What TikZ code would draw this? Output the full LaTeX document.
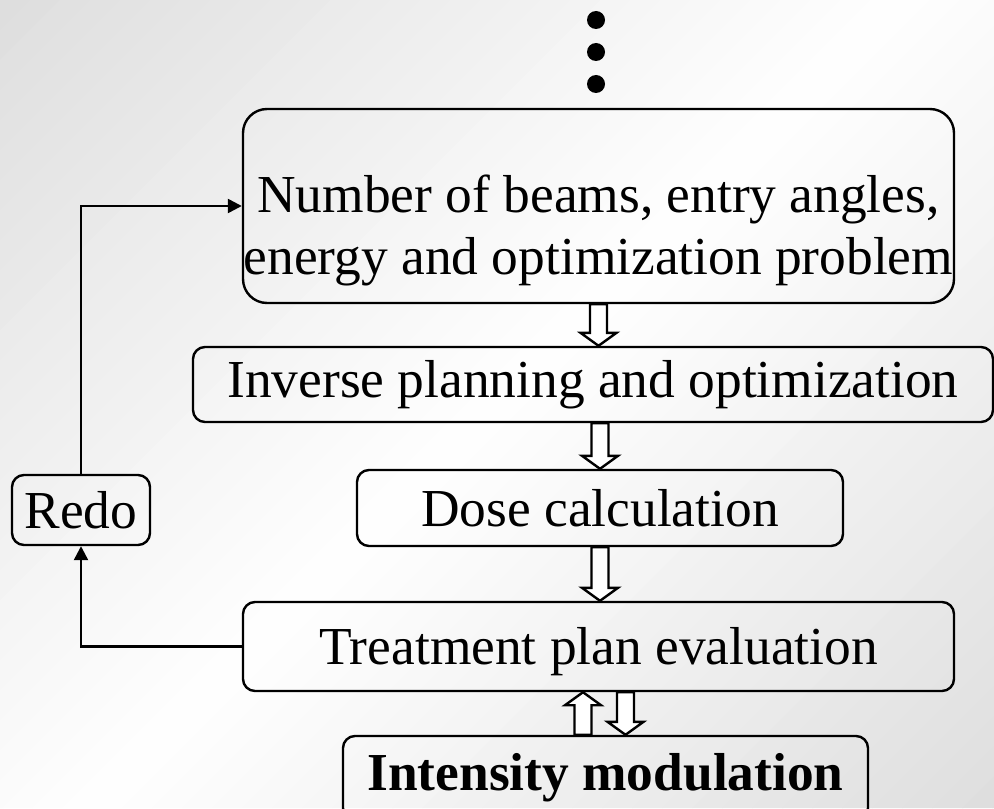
\documentclass[tikz,border=0pt]{standalone}
\usepackage{fontspec}
\setmainfont{Liberation Serif}
\usetikzlibrary{arrows.meta,positioning,calc}

\tikzset{
  stepbox/.style={draw, rounded corners=6pt, line width=1.2pt, inner sep=0pt,
    align=center, font=\fontsize{26.7}{31}\selectfont},
  link/.style={-{Triangle[length=7pt,width=7pt]}, line width=1.2pt},
  hollow/.style={draw, fill=white, line width=1.2pt, line join=miter},
}

% hollow block arrow from (#1) to (#2), vertical
\newcommand{\hollowarrow}[2]{%
  \path let \p1=(#1), \p2=(#2), \n1={ifthenelse(\y2<\y1,1,-1)} in
    [hollow] ({\x1-4.25pt},\y1) -- ({\x1+4.25pt},\y1)
    -- ({\x1+4.25pt},{\y2+\n1*6.5pt}) -- ({\x1+9pt},{\y2+\n1*6.5pt})
    -- (\x1,\y2) -- ({\x1-9pt},{\y2+\n1*6.5pt})
    -- ({\x1-4.25pt},{\y2+\n1*6.5pt}) -- cycle;
}

\begin{document}
\begin{tikzpicture}[x=0.5pt, y=-0.5pt]
    % background, diagonal bands
    \useasboundingbox (0,0) rectangle (994,808);
    \begin{scope}
        \clip (0,0) rectangle (994,808);
        \foreach \s in {0,30,...,1800} {
            \pgfmathsetmacro\c{abs(\s+15-901)/901*26}
            \fill[gray!\c] (\s,0) -- (\s+31,0) -- (\s+31-808,808) -- (\s-808,808) -- cycle;
        }
    \end{scope}

    % dots
    \foreach \i/\y in {1/20, 2/52, 3/84}
        \node[circle, fill, inner sep=0pt, minimum size=9pt] (dot\i) at (596,\y) {};

    % boxes
    \node[stepbox, rounded corners=12pt, minimum width=355.5pt, minimum height=97pt] (beams) at (598.5,206)
        {\rule{0pt}{43pt}Number of beams, entry angles,\\energy and optimization problem};
    \node[stepbox, minimum width=400pt, minimum height=37.5pt] (inverse) at (593,384.5)
        {Inverse planning and optimization};
    \node[stepbox, minimum width=243pt, minimum height=38pt] (dose) at (600,508)
        {Dose calculation};
    \node[stepbox, minimum width=355.5pt, minimum height=44.5pt] (eval) at (598.5,646.5)
        {\rule{0pt}{24pt}Treatment plan evaluation};
    \node[stepbox, minimum width=262.5pt, minimum height=42pt] (intensity) at (605.5,778)
        {\bfseries Intensity modulation};
    \node[stepbox, minimum width=69pt, minimum height=35pt] (redo) at (81,510)
        {Redo};

    % block arrows
    \hollowarrow{beams.south}{beams.south |- inverse.north}
    \hollowarrow{inverse.south -| dose.north}{dose.north}
    \hollowarrow{dose.south}{dose.south |- eval.north}
    \hollowarrow{[xshift=-11.25pt]intensity.north}{[xshift=-11.25pt]intensity.north |- eval.south}
    \hollowarrow{[xshift=13.5pt]eval.south}{[xshift=13.5pt]eval.south |- intensity.north}

    % feedback loop
    \draw[link] (eval.west) -| (redo.south);
    \draw[link] (redo.north) |- (beams.west);
\end{tikzpicture}
\end{document}
